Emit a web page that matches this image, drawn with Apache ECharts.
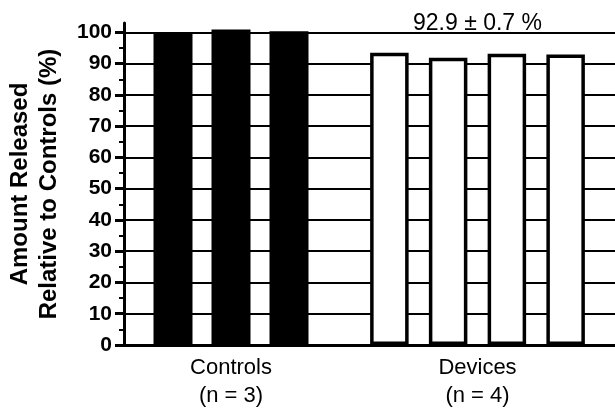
<!DOCTYPE html>
<html><head><meta charset="utf-8">
<script src="https://cdn.jsdelivr.net/npm/echarts@6/dist/echarts.min.js"></script>
<style>html,body{margin:0;padding:0;background:#fff}#c{width:615px;height:409px}</style>
</head><body><div id="c"></div>
<script>
const controlLabels = ['C1', 'C2', 'C3'];
const controlValues = [99.7, 100.9, 100.4];
const deviceLabels = ['D1', 'D2', 'D3', 'D4'];
const deviceValues = [93.5, 91.9, 93.2, 92.9];
const groupNames = ['Controls\n(n = 3)', 'Devices\n(n = 4)'];
const majorTicks = [0, 10, 20, 30, 40, 50, 60, 70, 80, 90, 100];
const minorTicks = [5, 15, 25, 35, 45, 55, 65, 75, 85, 95];
const annotationText = '92.9 \u00b1 0.7 %';
const annotationLevel = 100;
const yTitle = 'Amount Released\nRelative to Controls (%)';
const yMin = 0, yMax = 103;

const FONT = '"Liberation Sans", Arial, Helvetica, sans-serif';
const chart = echarts.init(document.getElementById('c'));
const gridTop = 23, gridBottom = 64;
const hiddenY = (g) => ({ gridIndex: g, type: 'value', min: yMin, max: yMax, show: false });
const groupX = (g, labels, name) => ({
  gridIndex: g, type: 'category', data: labels,
  axisLine: { show: false }, axisTick: { show: false }, axisLabel: { show: false }, splitLine: { show: false },
  name: name, nameLocation: 'middle', nameGap: 9,
  nameTextStyle: { fontFamily: FONT, fontSize: 22, lineHeight: 28, color: '#000' }
});
const gridBase = { top: gridTop, bottom: gridBottom, containLabel: false, outerBoundsMode: 'none' };
chart.setOption({
  animation: false,
  backgroundColor: '#fff',
  grid: [
    Object.assign({ left: 124, right: 0 }, gridBase),
    Object.assign({ left: 144, width: 174 }, gridBase),
    Object.assign({ left: 360, width: 235 }, gridBase)
  ],
  xAxis: [
    { gridIndex: 0, type: 'value', min: 0, max: 1,
      axisLine: { show: true, lineStyle: { color: '#000', width: 3 } },
      axisTick: { show: false }, axisLabel: { show: false }, splitLine: { show: false } },
    groupX(1, controlLabels, groupNames[0]),
    groupX(2, deviceLabels, groupNames[1])
  ],
  yAxis: [
    { gridIndex: 0, type: 'value', position: 'left', min: yMin, max: yMax, interval: 10,
      axisLine: { show: true, lineStyle: { color: '#000', width: 3 } },
      axisTick: { show: true, customValues: majorTicks, length: 9, lineStyle: { color: '#000', width: 3 } },
      axisLabel: { show: true, customValues: majorTicks, margin: 12, fontFamily: FONT, fontSize: 21, fontWeight: 'bold', color: '#000' },
      splitLine: { show: true, lineStyle: { color: '#000', width: 2 } },
      name: yTitle, nameLocation: 'middle', nameGap: 60,
      nameTextStyle: { fontFamily: FONT, fontSize: 24, fontWeight: 'bold', lineHeight: 29, color: '#000' } },
    { gridIndex: 0, type: 'value', position: 'left', offset: 0, min: yMin, max: yMax,
      axisLine: { show: false },
      axisTick: { show: true, customValues: minorTicks, length: 5, lineStyle: { color: '#000', width: 2 } },
      axisLabel: { show: false }, splitLine: { show: false } },
    hiddenY(1),
    hiddenY(2)
  ],
  series: [
    { type: 'bar', name: 'Controls', xAxisIndex: 1, yAxisIndex: 2, data: controlValues, barWidth: 39,
      itemStyle: { color: '#000', borderColor: '#000', borderWidth: 3 } },
    { type: 'bar', name: 'Devices', xAxisIndex: 2, yAxisIndex: 3, data: deviceValues, barWidth: 38.5,
      itemStyle: { color: '#fff', borderColor: '#000', borderWidth: 3.5 },
      markLine: { silent: true, symbol: 'none', data: [{ yAxis: annotationLevel }],
        lineStyle: { color: 'rgba(0,0,0,0)', width: 1 },
        label: { show: true, position: 'insideMiddleTop', distance: -3, formatter: annotationText,
          fontFamily: FONT, fontSize: 23, color: '#000' } } }
  ]
});
</script></body></html>
